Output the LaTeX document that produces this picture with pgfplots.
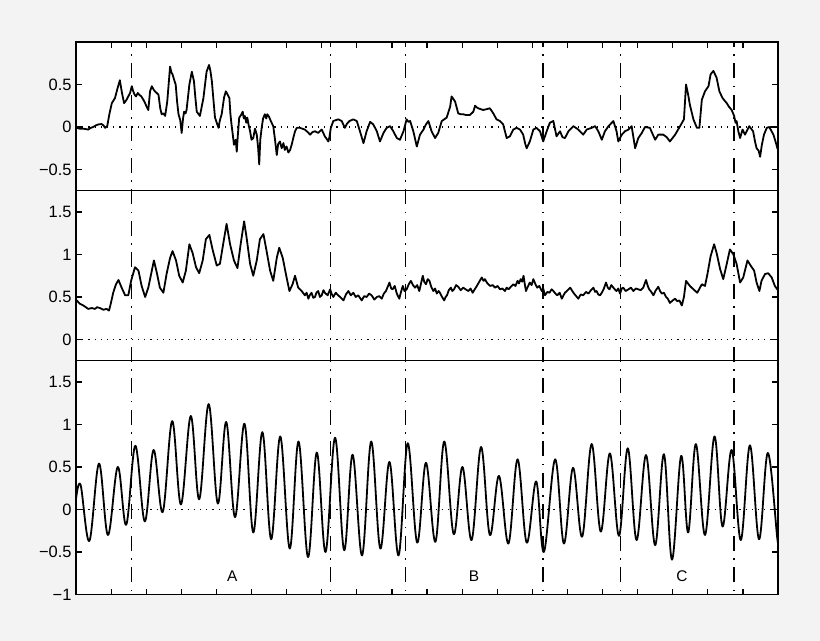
\documentclass[border=0pt]{standalone}
\usepackage{pgfplots}
\pgfplotsset{compat=1.18}
\usepackage{fontspec}
\setmainfont{Liberation Sans}
\definecolor{bg}{RGB}{243,243,243}
\pgfplotsset{
  panel/.style={
    scale only axis, width=702bp, xmin=0, xmax=20,
    anchor=south west,
    axis background/.style={fill=white},
    axis line style={line width=1.4bp},
    every tick/.style={black, line width=1.2bp},
    major tick length=6bp,
    ytick pos=both, yticklabel pos=left,
    tick align=inside,
    yticklabel style={font=\fontsize{16.5}{18}\selectfont, black, xshift=-1bp},
  },
}
\tikzset{
  sig/.style={black, line width=1.8bp, line join=round},
  zl/.style={black, line width=1.2bp, dash pattern=on 1.2bp off 5bp},
  dd/.style={black, line width=1.4bp, dash pattern=on 15bp off 7.5bp on 1.5bp off 7.5bp, dash phase=10bp}}
\begin{document}
\begin{tikzpicture}
\fill[bg] (0,0) rectangle (820bp,641bp);
% ---------- panel 1 ----------
\begin{axis}[panel, at={(76bp,450.25bp)}, height=148.75bp, ymin=-0.75, ymax=1,
  xtick={1,...,19}, xtick pos=right, xticklabels={},
  ytick={-0.5,0,0.5,1}, yticklabels={−0.5,0,0.5,{}}]
\draw[zl] (0,0) -- (20,0);
\addplot[sig] coordinates {
(0,0) (0.02,-0.01) (0.11,-0.02) (0.21,-0.02) (0.35,-0.03) (0.42,-0.01) (0.49,0.00) (0.57,0.02) (0.64,0.03) (0.73,0.035) (0.78,0.02) (0.83,-0.01) (0.89,0.01) (0.95,0.15) (1.02,0.28) (1.11,0.34) (1.18,0.45) (1.25,0.55) (1.31,0.40) (1.37,0.28) (1.44,0.32) (1.54,0.40) (1.59,0.48) (1.63,0.42) (1.67,0.38) (1.71,0.36) (1.76,0.40) (1.80,0.38) (1.86,0.36) (1.92,0.32) (1.97,0.28) (2.01,0.24) (2.06,0.20) (2.11,0.42) (2.16,0.48) (2.21,0.44) (2.25,0.42) (2.30,0.40) (2.35,0.38) (2.40,0.22) (2.44,0.15) (2.49,0.16) (2.54,0.13) (2.60,0.30) (2.68,0.71) (2.72,0.64) (2.75,0.62) (2.80,0.55) (2.84,0.50) (2.88,0.30) (2.92,0.15) (2.97,0.08) (3.01,-0.07) (3.05,0.10) (3.08,0.18) (3.12,0.16) (3.15,0.20) (3.23,0.50) (3.30,0.65) (3.36,0.54) (3.40,0.35) (3.44,0.18) (3.53,0.13) (3.63,0.34) (3.72,0.65) (3.79,0.73) (3.83,0.66) (3.87,0.54) (3.92,0.30) (3.96,0.11) (4.01,0.05) (4.06,-0.01) (4.10,0.08) (4.15,0.15) (4.22,0.35) (4.27,0.42) (4.32,0.38) (4.37,0.34) (4.40,0.15) (4.43,0.03) (4.47,-0.10) (4.50,-0.21) (4.55,-0.15) (4.58,-0.29) (4.61,-0.10) (4.65,0.11) (4.70,0.14) (4.75,0.18) (4.78,0.10) (4.81,0.13) (4.85,0.05) (4.88,0.11) (4.92,0.02) (4.96,-0.05) (5.00,-0.15) (5.05,-0.13) (5.10,-0.02) (5.15,-0.09) (5.19,-0.25) (5.22,-0.44) (5.25,-0.15) (5.29,-0.01) (5.33,0.10) (5.38,0.15) (5.42,0.10) (5.45,0.15) (5.50,0.12) (5.55,0.07) (5.62,0.01) (5.67,-0.15) (5.72,-0.33) (5.76,-0.20) (5.81,-0.17) (5.86,-0.25) (5.91,-0.19) (5.95,-0.27) (6.00,-0.23) (6.05,-0.30) (6.10,-0.27) (6.15,-0.20) (6.19,-0.13) (6.24,-0.05) (6.29,-0.01) (6.38,-0.01) (6.52,-0.03) (6.60,-0.06) (6.67,-0.09) (6.74,-0.06) (6.81,-0.05) (6.90,-0.07) (7.00,-0.03) (7.09,-0.11) (7.19,-0.17) (7.22,-0.12) (7.26,-0.01) (7.33,0.07) (7.40,0.08) (7.47,0.09) (7.57,0.07) (7.66,-0.01) (7.72,0.04) (7.79,0.07) (7.90,0.09) (8.00,0.07) (8.09,-0.05) (8.19,-0.19) (8.28,-0.05) (8.38,0.06) (8.47,0.03) (8.57,-0.05) (8.66,-0.17) (8.76,-0.07) (8.85,-0.01) (8.95,0.01) (9.04,-0.05) (9.14,-0.13) (9.23,-0.15) (9.33,-0.05) (9.42,0.09) (9.47,0.06) (9.52,0.07) (9.61,-0.05) (9.71,-0.23) (9.80,-0.09) (9.90,-0.03) (9.97,0.03) (10.04,0.07) (10.13,-0.05) (10.23,-0.13) (10.32,-0.07) (10.42,0.07) (10.56,0.11) (10.66,0.24) (10.70,0.36) (10.75,0.33) (10.80,0.30) (10.89,0.16) (10.96,0.15) (11.03,0.15) (11.12,0.14) (11.22,0.14) (11.32,0.18) (11.37,0.25) (11.42,0.23) (11.46,0.22) (11.53,0.21) (11.60,0.20) (11.70,0.21) (11.79,0.22) (11.89,0.16) (11.98,0.09) (12.08,0.07) (12.17,0.03) (12.22,-0.05) (12.27,-0.13) (12.36,-0.11) (12.46,-0.03) (12.55,-0.01) (12.65,-0.03) (12.74,-0.09) (12.80,-0.20) (12.84,-0.25) (12.93,-0.17) (13.03,-0.03) (13.12,-0.01) (13.22,-0.05) (13.31,-0.17) (13.41,-0.05) (13.50,0.05) (13.60,0.07) (13.69,-0.11) (13.79,-0.05) (13.86,-0.12) (13.93,-0.13) (14.03,-0.05) (14.17,0.01) (14.31,-0.03) (14.45,-0.09) (14.55,-0.03) (14.69,-0.01) (14.79,0.01) (14.88,-0.05) (14.98,-0.15) (15.07,-0.05) (15.17,0.01) (15.31,0.07) (15.40,-0.05) (15.45,-0.17) (15.55,-0.09) (15.64,-0.05) (15.74,-0.03) (15.83,0.01) (15.93,-0.25) (16.02,-0.13) (16.12,-0.07) (16.21,0.00) (16.35,-0.01) (16.50,-0.15) (16.59,-0.09) (16.73,-0.09) (16.83,-0.12) (16.92,-0.17) (17.07,-0.09) (17.21,0.01) (17.32,0.09) (17.38,0.50) (17.44,0.38) (17.49,0.26) (17.59,0.09) (17.69,-0.01) (17.76,-0.01) (17.83,0.32) (17.92,0.42) (18.02,0.48) (18.08,0.62) (18.16,0.66) (18.25,0.58) (18.33,0.42) (18.42,0.34) (18.54,0.28) (18.60,0.24) (18.68,0.20) (18.75,0.13) (18.79,0.05) (18.82,0.07) (18.87,-0.05) (18.92,-0.13) (18.99,-0.03) (19.06,-0.09) (19.18,0.01) (19.29,-0.05) (19.35,-0.18) (19.39,-0.25) (19.45,-0.28) (19.49,-0.35) (19.54,-0.21) (19.60,-0.09) (19.68,-0.01) (19.75,0.00) (19.87,-0.09) (19.95,-0.20) (19.98,-0.25) (20,-0.24)
};
\coordinate (T1) at (1.587,1);
\coordinate (T2) at (7.256,1);
\coordinate (T3) at (9.393,1);
\coordinate (T4) at (13.305,1);
\coordinate (T5) at (15.507,1);
\coordinate (T6) at (18.746,1);
\end{axis}
% ---------- panel 2 ----------
\begin{axis}[panel, at={(76bp,280.25bp)}, height=170bp, ymin=-0.25, ymax=1.75,
  xtick=\empty,
  ytick={0,0.5,1,1.5}, yticklabels={0,0.5,1,1.5}]
\draw[zl] (0,0) -- (20,0);
\addplot[sig] coordinates {
(0,0.46) (0.02,0.46) (0.11,0.42) (0.21,0.40) (0.35,0.36) (0.45,0.37) (0.54,0.36) (0.60,0.38) (0.68,0.37) (0.78,0.35) (0.87,0.36) (0.94,0.34) (0.99,0.42) (1.06,0.55) (1.14,0.65) (1.21,0.70) (1.30,0.61) (1.40,0.52) (1.49,0.52) (1.57,0.69) (1.68,0.85) (1.78,0.81) (1.87,0.63) (1.97,0.50) (2.06,0.61) (2.16,0.81) (2.22,0.93) (2.30,0.79) (2.39,0.61) (2.49,0.55) (2.58,0.77) (2.68,0.96) (2.75,1.04) (2.85,0.93) (2.94,0.75) (3.04,0.67) (3.13,0.81) (3.23,1.12) (3.32,1.02) (3.42,0.85) (3.51,0.78) (3.61,0.93) (3.70,1.18) (3.80,1.23) (3.89,1.06) (4.01,0.87) (4.10,0.89) (4.20,1.14) (4.29,1.36) (4.39,1.12) (4.50,0.93) (4.60,0.84) (4.69,1.12) (4.79,1.39) (4.86,1.20) (4.96,0.89) (5.05,0.75) (5.15,0.93) (5.24,1.18) (5.34,1.24) (5.43,1.04) (5.53,0.81) (5.62,0.69) (5.72,0.96) (5.79,1.08) (5.89,0.96) (5.98,0.77) (6.08,0.57) (6.17,0.65) (6.24,0.75) (6.33,0.61) (6.43,0.57) (6.52,0.52) (6.57,0.55) (6.62,0.48) (6.66,0.52) (6.71,0.55) (6.76,0.49) (6.81,0.50) (6.85,0.55) (6.90,0.57) (6.95,0.50) (7.00,0.52) (7.05,0.58) (7.09,0.55) (7.17,0.52) (7.24,0.59) (7.28,0.54) (7.33,0.50) (7.40,0.55) (7.47,0.52) (7.55,0.49) (7.62,0.46) (7.69,0.53) (7.76,0.57) (7.83,0.52) (7.90,0.55) (7.97,0.50) (8.04,0.52) (8.09,0.49) (8.14,0.46) (8.21,0.51) (8.28,0.50) (8.35,0.54) (8.42,0.52) (8.50,0.47) (8.57,0.50) (8.64,0.51) (8.71,0.48) (8.77,0.54) (8.83,0.57) (8.88,0.62) (8.93,0.67) (8.98,0.60) (9.02,0.59) (9.08,0.63) (9.14,0.54) (9.21,0.48) (9.26,0.56) (9.31,0.63) (9.36,0.57) (9.42,0.59) (9.48,0.65) (9.54,0.69) (9.60,0.64) (9.66,0.61) (9.72,0.64) (9.78,0.57) (9.83,0.66) (9.88,0.75) (9.92,0.68) (9.97,0.65) (10.02,0.71) (10.07,0.69) (10.12,0.62) (10.18,0.57) (10.23,0.60) (10.28,0.54) (10.33,0.57) (10.37,0.55) (10.43,0.50) (10.49,0.46) (10.53,0.50) (10.57,0.52) (10.62,0.58) (10.68,0.61) (10.72,0.57) (10.77,0.59) (10.83,0.64) (10.89,0.62) (10.96,0.58) (11.03,0.61) (11.10,0.59) (11.18,0.57) (11.24,0.60) (11.30,0.55) (11.36,0.59) (11.42,0.63) (11.49,0.68) (11.56,0.73) (11.61,0.69) (11.65,0.71) (11.72,0.66) (11.80,0.63) (11.87,0.64) (11.94,0.61) (12.01,0.63) (12.08,0.59) (12.15,0.60) (12.22,0.57) (12.27,0.61) (12.32,0.59) (12.39,0.62) (12.46,0.65) (12.52,0.63) (12.58,0.69) (12.62,0.66) (12.67,0.71) (12.71,0.68) (12.75,0.75) (12.79,0.64) (12.82,0.57) (12.87,0.62) (12.93,0.67) (12.98,0.64) (13.03,0.71) (13.09,0.65) (13.14,0.61) (13.20,0.63) (13.27,0.57) (13.31,0.60) (13.36,0.52) (13.43,0.56) (13.49,0.55) (13.55,0.59) (13.60,0.57) (13.66,0.54) (13.71,0.52) (13.78,0.55) (13.84,0.48) (13.89,0.52) (13.93,0.55) (14.01,0.58) (14.08,0.61) (14.14,0.57) (14.19,0.54) (14.25,0.51) (14.31,0.48) (14.38,0.53) (14.45,0.52) (14.53,0.56) (14.60,0.54) (14.67,0.58) (14.74,0.61) (14.79,0.56) (14.83,0.57) (14.88,0.53) (14.93,0.52) (14.98,0.55) (15.04,0.60) (15.10,0.67) (15.15,0.61) (15.20,0.59) (15.25,0.64) (15.29,0.62) (15.35,0.59) (15.40,0.57) (15.45,0.60) (15.50,0.54) (15.55,0.60) (15.59,0.61) (15.66,0.57) (15.74,0.59) (15.81,0.61) (15.88,0.57) (15.95,0.60) (16.02,0.59) (16.09,0.58) (16.16,0.61) (16.24,0.70) (16.29,0.63) (16.33,0.59) (16.39,0.56) (16.45,0.52) (16.52,0.58) (16.59,0.62) (16.64,0.57) (16.69,0.54) (16.75,0.55) (16.81,0.50) (16.86,0.48) (16.92,0.43) (17.00,0.46) (17.07,0.48) (17.13,0.45) (17.19,0.46) (17.26,0.40) (17.32,0.50) (17.38,0.69) (17.49,0.63) (17.59,0.59) (17.70,0.55) (17.83,0.65) (17.92,0.63) (17.99,0.77) (18.08,0.98) (18.18,1.12) (18.25,1.02) (18.35,0.83) (18.44,0.71) (18.54,0.89) (18.63,1.06) (18.73,1.00) (18.82,0.89) (18.92,0.67) (19.01,0.73) (19.13,0.93) (19.22,0.87) (19.32,0.81) (19.39,0.67) (19.47,0.57) (19.53,0.69) (19.63,0.77) (19.72,0.78) (19.82,0.73) (19.91,0.63) (19.98,0.59) (20,0.58)
};
\end{axis}
% ---------- panel 3 ----------
\begin{axis}[panel, at={(76bp,46.5bp)}, height=233.75bp, ymin=-1, ymax=1.75,
  xtick={1,...,19}, xtick pos=left, xticklabels={},
  ytick={-1,-0.5,0,0.5,1,1.5}, yticklabels={−1,−0.5,0,0.5,1,1.5}]
\draw[zl] (0,0) -- (20,0);
\addplot[sig, smooth, tension=0.6] coordinates {
(0,0.12) (0.13,0.29) (0.38,-0.37) (0.655,0.54) (0.91,-0.30) (1.19,0.50) (1.43,-0.18) (1.69,0.75) (1.96,-0.14) (2.21,0.70) (2.47,-0.03) (2.74,1.04) (2.99,0.06) (3.27,1.10) (3.51,0.12) (3.78,1.24) (4.04,0.07) (4.28,1.03) (4.53,-0.09) (4.80,1.01) (5.05,-0.27) (5.31,0.91) (5.56,-0.35) (5.82,0.86) (6.09,-0.46) (6.34,0.80) (6.61,-0.56) (6.86,0.67) (7.11,-0.50) (7.38,0.845) (7.64,-0.48) (7.88,0.645) (8.15,-0.54) (8.41,0.80) (8.67,-0.46) (8.93,0.56) (9.19,-0.54) (9.45,0.78) (9.72,-0.39) (9.97,0.55) (10.24,-0.38) (10.49,0.80) (10.76,-0.29) (11.01,0.50) (11.27,-0.36) (11.54,0.735) (11.79,-0.30) (12.05,0.395) (12.32,-0.40) (12.58,0.59) (12.84,-0.39) (13.11,0.33) (13.33,-0.50) (13.65,0.59) (13.90,-0.40) (14.16,0.49) (14.42,-0.32) (14.69,0.77) (14.95,-0.26) (15.21,0.66) (15.47,-0.31) (15.72,0.72) (15.97,-0.36) (16.24,0.64) (16.50,-0.42) (16.75,0.65) (16.98,-0.59) (17.24,0.63) (17.44,-0.27) (17.66,0.77) (17.92,-0.30) (18.19,0.86) (18.42,-0.20) (18.68,0.70) (18.94,-0.36) (19.20,0.755) (19.46,-0.35) (19.71,0.665) (19.98,-0.34) (20,-0.33)
};
\node[font=\fontsize{15.5}{17}\selectfont] at (4.45,-0.79) {A};
\node[font=\fontsize{15.5}{17}\selectfont] at (11.34,-0.79) {B};
\node[font=\fontsize{15.5}{17}\selectfont] at (17.26,-0.79) {C};
\coordinate (B1) at (1.587,-1);
\coordinate (B2) at (7.256,-1);
\coordinate (B3) at (9.393,-1);
\coordinate (B4) at (13.305,-1);
\coordinate (B5) at (15.507,-1);
\coordinate (B6) at (18.746,-1);
\end{axis}
\foreach \i in {1,...,6} {\draw[dd] (T\i) -- (B\i);}
\pgfresetboundingbox
\useasboundingbox (0,0) rectangle (820bp,641bp);
\end{tikzpicture}
\end{document}
